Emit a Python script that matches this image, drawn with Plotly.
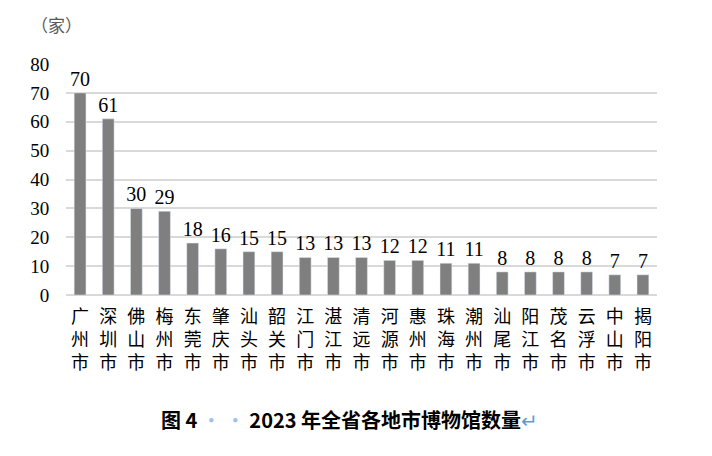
import plotly.graph_objects as go

cities = ["广州市", "深圳市", "佛山市", "梅州市", "东莞市", "肇庆市", "汕头市", "韶关市",
          "江门市", "湛江市", "清远市", "河源市", "惠州市", "珠海市", "潮州市", "汕尾市",
          "阳江市", "茂名市", "云浮市", "中山市", "揭阳市"]
counts = [70, 61, 30, 29, 18, 16, 15, 15, 13, 13, 13, 12, 12, 11, 11, 8, 8, 8, 8, 7, 7]
y_ticks = [0, 10, 20, 30, 40, 50, 60, 70, 80]

labels = ["<br>".join(list(c)) for c in cities]

serif = "Liberation Serif, Times New Roman, serif"

fig = go.Figure(go.Bar(
    x=labels, y=counts, marker_color="#7f7f7f",
    text=[str(v) for v in counts], textposition="outside",
    constraintext="none",
    textfont=dict(family=serif, size=20, color="#000000"),
    outsidetextfont=dict(family=serif, size=20, color="#000000"),
    cliponaxis=False,
))

fig.update_layout(
    width=712, height=456,
    margin=dict(l=58, r=63, t=56, b=169),
    plot_bgcolor="white", paper_bgcolor="white",
    bargap=0.58, showlegend=False,
    xaxis=dict(tickfont=dict(family="Noto Sans CJK SC", size=18, color="#000"),
               ticks="outside", ticklen=5, tickcolor="rgba(0,0,0,0)",
               showline=False, showgrid=False, automargin=False),
    yaxis=dict(range=[0, 80], tickvals=y_ticks, automargin=False,
               tickfont=dict(family=serif, size=19, color="#000"),
               showgrid=True, gridcolor="#d9d9d9", gridwidth=2,
               zeroline=True, zerolinecolor="#d9d9d9", zerolinewidth=2,
               ticks="outside", ticklen=12, tickcolor="rgba(0,0,0,0)"),
    annotations=[
        dict(text="（家）", x=-0.0155, y=1.17, xref="paper", yref="paper", showarrow=False,
             xanchor="center", yanchor="middle",
             font=dict(family="Noto Sans CJK SC", size=17, color="#595959")),
        dict(text="<b>图 4</b><span style='color:#9dc3e6'>\u2009·\u2009·\u2009</span><b>2023 年全省各地市博物馆数量</b><span style='color:#5b9bd5'>↵</span>",
             x=0.479, y=-0.54, xref="paper", yref="paper", showarrow=False,
             xanchor="center", yanchor="middle",
             font=dict(family="Noto Sans CJK SC", size=20, color="#000")),
    ],
)
fig.write_html("out.html")
